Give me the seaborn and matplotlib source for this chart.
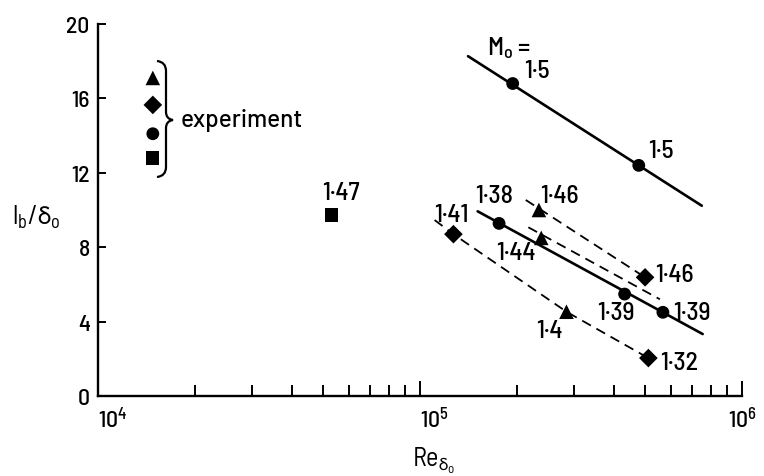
import numpy as np
import pandas as pd
import matplotlib
matplotlib.use("Agg")
import matplotlib.pyplot as plt
import seaborn as sns
from matplotlib.path import Path
from matplotlib.patches import PathPatch

# ---------------- data ----------------
# experiment column
exp_re = [1.48e4, 1.48e4, 1.48e4, 1.48e4]
exp_vals = [17.1, 15.65, 14.1, 12.8]
exp_markers = ['^', 'D', 'o', 's']

# lone square, M0 = 1.47
sq_re = [5.32e4]
sq_val = [9.73]

# upper solid line (M0 = 1.5)
up_line_re = [1.41e5, 7.5e5]
up_line_val = [18.27, 10.23]
up_pts_re = [1.94e5, 4.78e5]
up_pts_val = [16.8, 12.4]

# lower solid line (circles 1.38, 1.39, 1.39)
lo_line_re = [1.51e5, 7.55e5]
lo_line_val = [9.93, 3.33]
lo_pts_re = [1.76e5, 4.32e5, 5.68e5]
lo_pts_val = [9.28, 5.48, 4.5]

# dashed line A: triangle 1.46 -> diamond 1.46
dA_re = [2.13e5, 5.0e5]
dA_val = [10.54, 6.38]
triA_re = [2.34e5]
triA_val = [10.0]
diaA_re = [5.0e5]
diaA_val = [6.38]

# dashed line B: triangle 1.44
dB_re = [2.17e5, 5.56e5]
dB_val = [9.07, 5.2]
triB_re = [2.38e5]
triB_val = [8.5]

# dashed line C: diamond 1.41 -> triangle 1.4 -> diamond 1.32
dC_re = [1.11e5, 1.27e5, 2.85e5, 5.12e5]
dC_val = [9.46, 8.7, 4.53, 2.04]
diaC_re = [1.27e5, 5.12e5]
diaC_val = [8.7, 2.04]
triC_re = [2.85e5]
triC_val = [4.53]

# point labels (Mach numbers): text, Re (centre), value (baseline)
label_text = ["1·5", "1·5", "1·47", "1·38", "1·46", "1·41", "1·44",
              "1·46", "1·39", "1·39", "1·4", "1·32"]
label_re = [2.31e5, 5.60e5, 5.68e4, 1.70e5, 2.72e5, 1.25e5, 1.99e5,
            6.19e5, 4.06e5, 6.99e5, 2.52e5, 6.37e5]
label_val = [17.15, 12.85, 10.59, 10.43, 10.43, 9.41, 7.37,
             6.18, 4.14, 4.14, 3.17, 1.45]

yticks = [0, 4, 8, 12, 16, 20]
xticks = [1e4, 1e5, 1e6]
xtick_labels = [r'$10^{4}$', r'$10^{5}$', r'$10^{6}$']

# ---------------- style ----------------
sns.set_style("ticks")
NUMFONT = ['Barlow Semi Condensed', 'DejaVu Sans']
plt.rcParams['font.family'] = NUMFONT
plt.rcParams['font.weight'] = 500
plt.rcParams['mathtext.fontset'] = 'custom'
plt.rcParams['mathtext.rm'] = 'Barlow Semi Condensed:medium'
plt.rcParams['mathtext.it'] = 'Barlow Semi Condensed:medium'
plt.rcParams['mathtext.bf'] = 'Barlow Semi Condensed:bold'
plt.rcParams['mathtext.fallback'] = 'stixsans'
plt.rcParams['mathtext.default'] = 'regular'
for key in ['text.color', 'axes.labelcolor', 'xtick.color', 'ytick.color',
            'xtick.labelcolor', 'ytick.labelcolor']:
    plt.rcParams[key] = 'black'

W, H = 764, 477
fig = plt.figure(figsize=(W / 100, H / 100), dpi=100)
L, R, T, B = 98, 742, 25, 397
ax = fig.add_axes([L / W, 1 - B / H, (R - L) / W, (B - T) / H])

k = 'black'
solid_lw = 1.9
dash_lw = 1.3
dash = (0, (5.5, 3.5))

def line(xs, ys, ls='-', lw=solid_lw):
    sns.lineplot(x=xs, y=ys, ax=ax, color=k, lw=lw, linestyle=ls,
                 sort=False, estimator=None)

def pts(xs, ys, marker, s):
    sns.scatterplot(x=xs, y=ys, ax=ax, color=k, marker=marker, s=s,
                    edgecolor='none', linewidth=0, zorder=5)

line(up_line_re, up_line_val)
line(lo_line_re, lo_line_val)
line(dA_re, dA_val, ls=dash, lw=dash_lw)
line(dB_re, dB_val, ls=dash, lw=dash_lw)
line(dC_re, dC_val, ls=dash, lw=dash_lw)

sizes = {'^': 110, 'D': 90, 'o': 85, 's': 90}
for xr, v, m in zip(exp_re, exp_vals, exp_markers):
    pts([xr], [v], m, sizes[m])
pts(sq_re, sq_val, 's', sizes['s'])
pts(up_pts_re, up_pts_val, 'o', sizes['o'])
pts(lo_pts_re, lo_pts_val, 'o', sizes['o'])
pts(triA_re, triA_val, '^', sizes['^'])
pts(diaA_re, diaA_val, 'D', sizes['D'])
pts(triB_re, triB_val, '^', sizes['^'])
pts(diaC_re, diaC_val, 'D', sizes['D'])
pts(triC_re, triC_val, '^', sizes['^'])

fs = 18.5
for t, xr, v in zip(label_text, label_re, label_val):
    ax.text(xr, v, t, fontsize=fs, ha='center', va='baseline', color=k)

ax.text(1.62e5, 18.39, r'M$_\mathrm{o}$ =', fontsize=fs, ha='left', va='baseline')

# brace and "experiment"
def px2ax(px, py):
    return ((px - L) / (R - L), (B - py) / (B - T))

brace_px = [(157, 62), (166, 63), (166, 72), (166, 113), (166, 120), (173, 121),
            (166, 122), (166, 129), (166, 168), (166, 177), (157, 178)]
codes = [Path.MOVETO, Path.CURVE3, Path.CURVE3, Path.LINETO, Path.CURVE3,
         Path.CURVE3, Path.CURVE3, Path.CURVE3, Path.LINETO, Path.CURVE3, Path.CURVE3]
verts = [px2ax(*p) for p in brace_px]
ax.add_patch(PathPatch(Path(verts, codes), transform=ax.transAxes,
                       fill=False, lw=1.6, color=k, clip_on=False))
ax.text(*px2ax(181, 121), 'experiment', transform=ax.transAxes,
        fontsize=17.5, ha='left', va='center', family=['Barlow', 'DejaVu Sans'],
        fontweight=500)

# axes
ax.set_xscale('log')
ax.set_xlim(1e4, 1e6)
ax.set_ylim(0, 20)
ax.set_yticks(yticks)
ax.set_yticklabels([str(v) for v in yticks])
ax.set_xticks(xticks)
ax.set_xticklabels(xtick_labels)
sns.despine(ax=ax)
for sp in ['left', 'bottom']:
    ax.spines[sp].set_linewidth(1.7)
    ax.spines[sp].set_color(k)
ax.tick_params(axis='both', which='both', direction='in', color=k, width=1.4,
               labelsize=17, labelcolor=k)
ax.tick_params(axis='x', which='major', length=11, pad=7)
ax.tick_params(axis='x', which='minor', length=8)
ax.tick_params(axis='y', which='major', length=6, pad=6)
ax.tick_params(axis='y', which='minor', length=0)
xlabs = ax.get_xticklabels()
for i, lab in enumerate(xlabs):
    lab.set_horizontalalignment('center' if i == len(xlabs) - 1 else 'left')

ax.set_xlabel(r'Re$_{\delta_o}$', fontsize=19)
ax.xaxis.set_label_coords(*px2ax(434, 461))
ax.xaxis.label.set_va('center')
ax.set_ylabel(r'l$_b$/$\delta_o$', fontsize=19, rotation=0, va='center', ha='center')
ax.yaxis.set_label_coords(*px2ax(36, 217))

fig.savefig('out.png', dpi=100)
